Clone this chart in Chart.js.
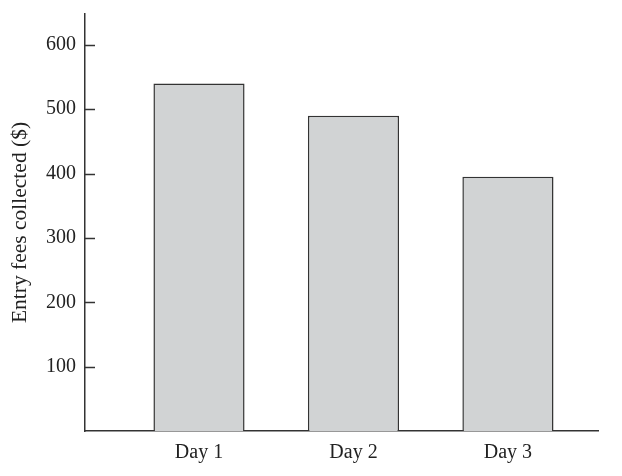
<!DOCTYPE html>
<html>
<head>
<meta charset="utf-8">
<script src="https://cdn.jsdelivr.net/npm/chart.js@4.4.1/dist/chart.umd.min.js"></script>
<style>
  html, body { margin: 0; padding: 0; background: #fff; }
  #wrap { width: 622px; height: 476px; }
</style>
</head>
<body>
<div id="wrap"><canvas id="feesChart"></canvas></div>
<script>
// Data
const days = ['Day 1', 'Day 2', 'Day 3'];
const dayPos = [1, 2, 3];
const fees = [540, 490, 395];
const yTicks = [100, 200, 300, 400, 500, 600];

const ink = '#333333';
const serif = 'Liberation Serif';

// short inward tick marks on the y axis
const innerTicks = {
    id: 'innerTicks',
    afterDraw(chart) {
        const ctx = chart.ctx;
        const y = chart.scales.y;
        const left = chart.chartArea.left;
        ctx.save();
        ctx.strokeStyle = ink;
        ctx.lineWidth = 1.5;
        yTicks.forEach(function(v) {
            const py = Math.round(y.getPixelForValue(v)) + 0.5;
            ctx.beginPath();
            ctx.moveTo(left, py);
            ctx.lineTo(left + 10, py);
            ctx.stroke();
        });
        ctx.restore();
    }
};

const ctx = document.getElementById('feesChart').getContext('2d');
const feesChart = new Chart(ctx, {
    type: 'bar',
    data: {
        datasets: [{
            data: dayPos.map(function(x, i) { return { x: x, y: fees[i] }; }),
            backgroundColor: '#d1d3d4',
            borderColor: ink,
            borderWidth: 1.5,
            borderSkipped: 'bottom',
            barPercentage: 0.59,
            categoryPercentage: 1
        }]
    },
    options: {
        responsive: true,
        maintainAspectRatio: false,
        animation: false,
        layout: { padding: { top: 14, right: 24, left: 0, bottom: 0 } },
        plugins: {
            legend: { display: false },
            tooltip: { enabled: false }
        },
        scales: {
            x: {
                type: 'linear',
                offset: false,
                min: 0.262,
                max: 3.583,
                afterBuildTicks: function(scale) {
                    scale.ticks = dayPos.map(function(v) { return { value: v }; });
                },
                afterFit: function(scale) {
                    scale.height = 45;
                    scale.paddingLeft = 0;
                    scale.paddingRight = 0;
                },
                grid: { display: false, drawTicks: false },
                border: { display: true, color: ink, width: 1.5 },
                ticks: {
                    color: '#222',
                    font: { family: serif, size: 20 },
                    padding: 10,
                    maxRotation: 0,
                    callback: function(v) {
                        const i = dayPos.indexOf(v);
                        return i >= 0 ? days[i] : '';
                    }
                }
            },
            y: {
                min: 0,
                max: 648,
                afterBuildTicks: function(scale) {
                    scale.ticks = yTicks.map(function(v) { return { value: v }; });
                },
                afterFit: function(scale) {
                    scale.width = 85;
                    scale.paddingTop = 0;
                    scale.paddingBottom = 0;
                },
                grid: { display: false, drawTicks: false },
                border: { display: true, color: ink, width: 1.5 },
                ticks: {
                    color: '#222',
                    font: { family: serif, size: 20 },
                    padding: 9
                },
                title: {
                    display: true,
                    text: 'Entry fees collected ($)',
                    color: '#222',
                    font: { family: serif, size: 21.5 },
                    padding: { top: 7, bottom: 0 }
                }
            }
        }
    },
    plugins: [innerTicks]
});
</script>
</body>
</html>
